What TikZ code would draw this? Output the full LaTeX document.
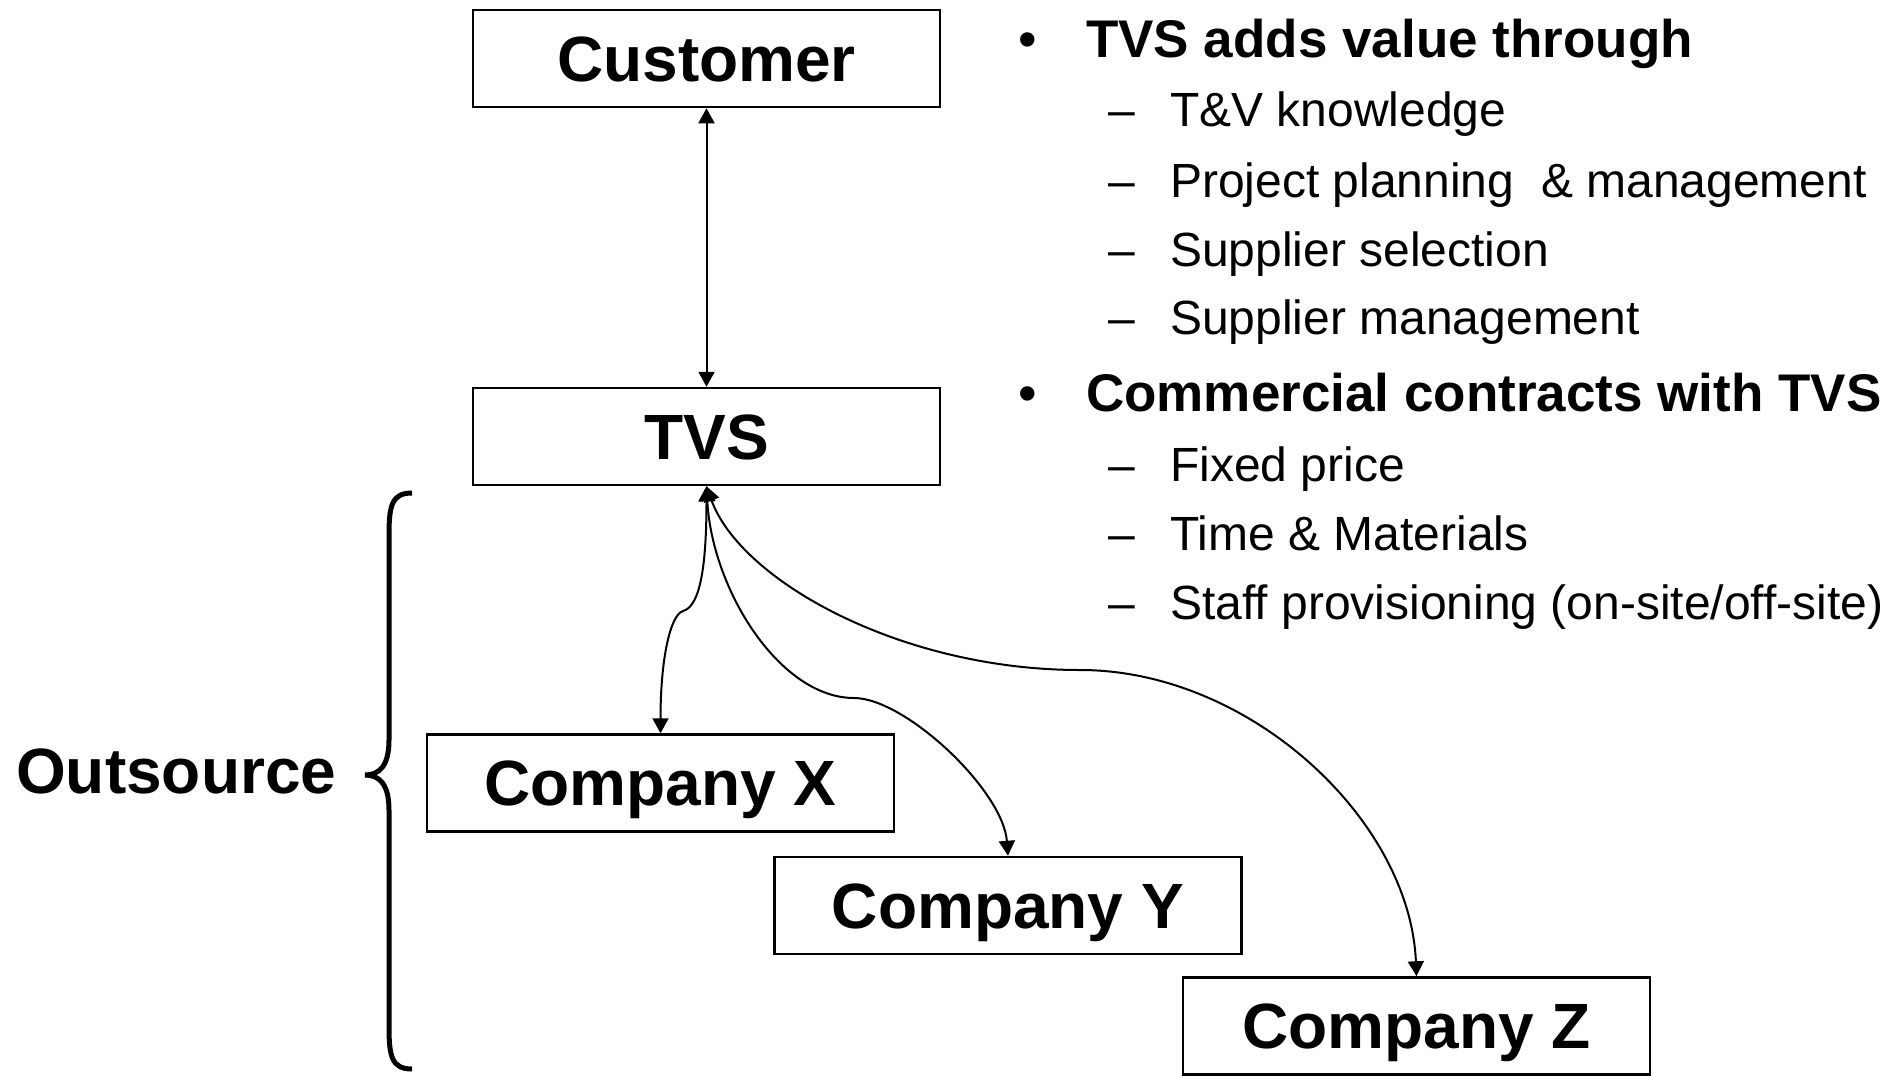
\documentclass[tikz,border=0pt]{standalone}
\usepackage{fontspec}
\setmainfont{Liberation Sans}
\usetikzlibrary{arrows.meta}

\begin{document}
\begin{tikzpicture}[x=1pt,y=-1pt,
  box/.style={draw,line width=2.5pt,minimum width=467pt,minimum height=97pt,inner sep=0pt,
    font=\fontsize{64}{70}\selectfont\bfseries,text height=45pt,text depth=0pt},
  head/.style={anchor=base west,inner sep=0pt,font=\fontsize{53}{60}\selectfont\bfseries},
  item/.style={anchor=base west,inner sep=0pt,font=\fontsize{48}{56}\selectfont},
  link/.style={line width=2pt,{Triangle[length=15pt,width=16pt]}-{Triangle[length=15pt,width=16pt]}}]
\useasboundingbox (0,0) rectangle (1900,1076);
\node[box] (cust) at (706.5,58.5) {Customer};
\node[box] (tvs) at (706.5,436.5) {TVS};
\node[box] (cx) at (660.5,783) {Company X};
\node[box] (cy) at (1008,905.5) {Company Y};
\node[box] (cz) at (1416.5,1026) {Company Z};
% bends of the curved links
\coordinate (bx) at (683,611);
\coordinate (by) at (854,698);
\coordinate (bz) at (1080,670);
\draw[link] (cust.south) -- (tvs.north);
\draw[link] (tvs.south) .. controls (706.5,580) and (697,607) .. (bx) .. controls (670,615) and (660.5,660) .. (cx.north);
\draw[link] (tvs.south) .. controls (712,590) and (780,698) .. (by) .. controls (905,698) and (1003,790) .. (cy.north);
\draw[link] (tvs.south) .. controls (740,580) and (900,670) .. (bz) .. controls (1250,670) and (1410,820) .. (cz.north);
% brace
\draw[line width=5pt] (412,493) .. controls (392,493) and (389,505) .. (389,535) -- (389,740)
  .. controls (389,765) and (380,775) .. (365,775) .. controls (380,775) and (389,785) .. (389,810)
  -- (389,1027) .. controls (389,1057) and (392,1069) .. (412,1069);
\node[anchor=base west,inner sep=0pt,font=\fontsize{64}{70}\selectfont\bfseries] (outs) at (16,793) {Outsource};
% list
\node[head] (bul1) at (1018,57) {\mdseries\textbullet};
\node[head] (head1) at (1086,57) {TVS adds value through};
\node[head] (bul2) at (1018,411) {\mdseries\textbullet};
\node[head] (head2) at (1086,411) {Commercial contracts with TVS};
\foreach \txt/\ypos [count=\i] in {T\&V knowledge/126,Project planning\ \ \& management/197,
  Supplier selection/266,Supplier management/334,Fixed price/481,Time \& Materials/550,
  {Staff provisioning (on-site/off-site)}/619}
  { \node[item] (dash\i) at (1108,\ypos) {\textendash};
    \node[item] (item\i) at (1170,\ypos) {\txt}; }
\end{tikzpicture}
\end{document}
